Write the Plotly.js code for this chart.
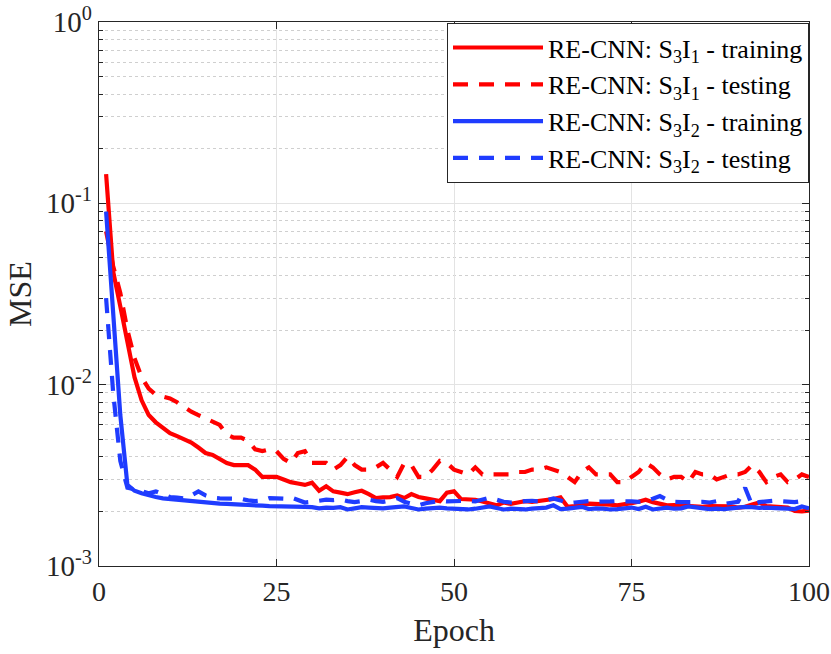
<!DOCTYPE html>
<html>
<head>
<meta charset="utf-8">
<script src="https://cdn.plot.ly/plotly-3.0.1.min.js"></script>
<style>
  html, body { margin: 0; padding: 0; background: #ffffff; }
  #chart { width: 831px; height: 654px; }
</style>
</head>
<body>
<div id="chart"></div>
<script>
// MSE per epoch

var epochs = [];
for (var i = 1; i <= 100; i++) epochs.push(i);

// S3I1 - training
var s3i1Train = [
  0.145, 0.042, 0.027, 0.017, 0.011, 0.0082, 0.0068, 0.0062, 0.0058, 0.0054,
  0.0052, 0.0050, 0.0048, 0.0045, 0.0042, 0.0041, 0.0039, 0.0037, 0.0036, 0.0036,
  0.0036, 0.0034, 0.0031, 0.0031, 0.0031, 0.0030, 0.0029, 0.00285, 0.0028, 0.00288,
  0.0026, 0.00275, 0.00258, 0.00254, 0.00249, 0.00255, 0.0026, 0.00249, 0.00237, 0.00239,
  0.0024, 0.00245, 0.00237, 0.00249, 0.0024, 0.00236, 0.00232, 0.00228, 0.00254, 0.00258,
  0.00234, 0.00233, 0.00232, 0.00227, 0.0022, 0.00216, 0.00224, 0.0022, 0.00224, 0.00228,
  0.00226, 0.00228, 0.00229, 0.00234, 0.00239, 0.00212, 0.00214, 0.0022, 0.00221, 0.0022,
  0.00221, 0.00218, 0.00216, 0.00218, 0.00222, 0.00226, 0.00232, 0.00225, 0.0022, 0.00216,
  0.00217, 0.00216, 0.00215, 0.00213, 0.00212, 0.00214, 0.00214, 0.00212, 0.00213, 0.0021,
  0.00212, 0.00218, 0.00224, 0.00214, 0.00213, 0.00212, 0.0021, 0.00201, 0.0020, 0.00202
];

// S3I1 - testing
var s3i1Test = [
  0.07, 0.045, 0.032, 0.020, 0.014, 0.011, 0.0095, 0.0088, 0.0086, 0.0084,
  0.0080, 0.0075, 0.0071, 0.0068, 0.0065, 0.0062, 0.0060, 0.0053, 0.0051, 0.0051,
  0.0049, 0.0044, 0.0043, 0.0044, 0.0043, 0.0039, 0.0037, 0.0042, 0.0043, 0.0037,
  0.0037, 0.0037, 0.0034, 0.0036, 0.0040, 0.0036, 0.0034, 0.0034, 0.0035, 0.0037,
  0.0034, 0.0031, 0.0037, 0.0036, 0.0031, 0.0031, 0.0034, 0.0038, 0.0037, 0.0034,
  0.0033, 0.0032, 0.0035, 0.0032, 0.0032, 0.0032, 0.0032, 0.0032, 0.0033, 0.0033,
  0.0034, 0.0034, 0.0035, 0.0034, 0.0033, 0.0031, 0.0029, 0.0033, 0.0035, 0.0032,
  0.0032, 0.0032, 0.0029, 0.0029, 0.0031, 0.0033, 0.0037, 0.0035, 0.0032, 0.0030,
  0.0031, 0.0031, 0.0029, 0.0033, 0.0032, 0.0032, 0.0030, 0.0031, 0.0032, 0.0032,
  0.0033, 0.0036, 0.0033, 0.0029, 0.0031, 0.0032, 0.0029, 0.0030, 0.0032, 0.0031
];

// S3I2 - training
var s3i2Train = [
  0.09, 0.024, 0.0068, 0.0028, 0.0026, 0.00252, 0.00245, 0.0024, 0.00236, 0.00234,
  0.0023, 0.00228, 0.00227, 0.00226, 0.00224, 0.00222, 0.00221, 0.0022, 0.0022, 0.00218,
  0.00217, 0.00215, 0.00215, 0.00214, 0.00214, 0.00214, 0.00213, 0.00213, 0.00212, 0.00211,
  0.00208, 0.0021, 0.00209, 0.00211, 0.00205, 0.00208, 0.00211, 0.0021, 0.00209, 0.00208,
  0.0021, 0.00211, 0.00213, 0.00209, 0.00205, 0.00207, 0.00208, 0.0021, 0.00208, 0.00207,
  0.00206, 0.00205, 0.00207, 0.0021, 0.00213, 0.00209, 0.00205, 0.00207, 0.00206, 0.00205,
  0.00207, 0.00208, 0.0021, 0.00216, 0.00206, 0.00207, 0.0021, 0.00212, 0.00206, 0.00208,
  0.00207, 0.00205, 0.00206, 0.00208, 0.0021, 0.00206, 0.00212, 0.00205, 0.00207, 0.0021,
  0.00207, 0.00208, 0.00213, 0.0021, 0.00208, 0.00206, 0.00207, 0.00206, 0.00208, 0.0021,
  0.00212, 0.00211, 0.00209, 0.0021, 0.0021, 0.00208, 0.00207, 0.00206, 0.00213, 0.00208
];

// S3I2 - testing
var s3i2Test = [
  0.03, 0.009, 0.0038, 0.0027, 0.00265, 0.00258, 0.00252, 0.00258, 0.0025, 0.0024,
  0.00238, 0.00236, 0.00245, 0.00258, 0.00245, 0.00238, 0.00236, 0.00236, 0.00237, 0.00235,
  0.0023, 0.00228, 0.0023, 0.00237, 0.00236, 0.00235, 0.00239, 0.0023, 0.00224, 0.00226,
  0.0023, 0.00232, 0.00231, 0.00233, 0.00228, 0.00225, 0.00228, 0.00232, 0.00228, 0.00226,
  0.0023, 0.00237, 0.00226, 0.0022, 0.00216, 0.00222, 0.00226, 0.00229, 0.00227, 0.00228,
  0.0023, 0.00229, 0.00227, 0.00232, 0.00238, 0.00232, 0.00226, 0.00224, 0.00227, 0.00228,
  0.00229, 0.00227, 0.0023, 0.00236, 0.0023, 0.00222, 0.00224, 0.00226, 0.00228, 0.00226,
  0.00225, 0.00227, 0.00228, 0.00229, 0.00227, 0.00226, 0.00228, 0.00235, 0.00243, 0.00232,
  0.00226, 0.00225, 0.00226, 0.00227, 0.00226, 0.00224, 0.00228, 0.0022, 0.00222, 0.00226,
  0.0027, 0.00216, 0.00225, 0.00228, 0.00229, 0.00228, 0.00226, 0.00225, 0.00228, 0.00233
];

var names = [
  'RE-CNN: S<sub>3</sub>I<sub>1</sub> - training',
  'RE-CNN: S<sub>3</sub>I<sub>1</sub> - testing',
  'RE-CNN: S<sub>3</sub>I<sub>2</sub> - training',
  'RE-CNN: S<sub>3</sub>I<sub>2</sub> - testing'
];

var xTicks = [0, 25, 50, 75, 100];
var yTicks = [1e-3, 1e-2, 1e-1, 1];
var yTickText = ['10<sup>-3</sup>', '10<sup>-2</sup>', '10<sup>-1</sup>', '10<sup>0</sup>'];

// minor ticks 2..9 in every decade
var yMinor = [];
for (var d = -3; d < 0; d++) {
  for (var m = 2; m <= 9; m++) yMinor.push(m * Math.pow(10, d));
}

var red = '#ff0000';
var blue = '#1f3cff';
var dashed = '15px,11px';

var data = [
  { x: epochs, y: s3i1Train, name: names[0], type: 'scatter', mode: 'lines',
    line: { color: red, width: 4.2 } },
  { x: epochs, y: s3i1Test, name: names[1], type: 'scatter', mode: 'lines',
    line: { color: red, width: 4.2, dash: dashed } },
  { x: epochs, y: s3i2Train, name: names[2], type: 'scatter', mode: 'lines',
    line: { color: blue, width: 4.2 } },
  { x: epochs, y: s3i2Test, name: names[3], type: 'scatter', mode: 'lines',
    line: { color: blue, width: 4.2, dash: dashed } }
];

var serif = '"Liberation Serif", "Times New Roman", serif';

var layout = {
  width: 831,
  height: 654,
  paper_bgcolor: '#ffffff',
  plot_bgcolor: '#ffffff',
  font: { family: serif, size: 26, color: '#262626' },
  margin: { l: 99, r: 22, t: 22, b: 88 },
  showlegend: true,
  legend: {
    x: 1, xanchor: 'right', y: 0.998, yanchor: 'top',
    bgcolor: '#ffffff', bordercolor: '#262626', borderwidth: 1,
    font: { family: serif, size: 26, color: '#000000' },
    itemwidth: 90,
    tracegroupgap: 0
  },
  xaxis: {
    range: [0, 100],
    tickmode: 'array',
    tickvals: xTicks,
    ticks: 'inside', ticklen: 7, tickcolor: '#262626',
    showline: true, linecolor: '#262626', linewidth: 1.2, mirror: 'ticks',
    showgrid: true, gridcolor: '#e3e3e3', gridwidth: 1,
    zeroline: false,
    tickfont: { family: serif, size: 28, color: '#262626' },
    title: { text: 'Epoch', font: { family: serif, size: 32, color: '#262626' }, standoff: 12 }
  },
  yaxis: {
    type: 'log',
    range: [-3, 0],
    tickmode: 'array',
    tickvals: yTicks,
    ticktext: yTickText,
    ticks: 'inside', ticklen: 7, tickcolor: '#262626',
    showline: true, linecolor: '#262626', linewidth: 1.2, mirror: 'ticks',
    showgrid: true, gridcolor: '#e3e3e3', gridwidth: 1,
    zeroline: false,
    tickfont: { family: serif, size: 29, color: '#262626' },
    minor: {
      tickmode: 'array', tickvals: yMinor,
      ticks: 'inside', ticklen: 4, tickcolor: '#262626',
      showgrid: true, gridcolor: '#cfcfcf', griddash: 'dot', gridwidth: 1
    },
    title: { text: 'MSE', font: { family: serif, size: 32, color: '#262626' }, standoff: 4 }
  }
};

Plotly.newPlot('chart', data, layout, { displayModeBar: false, staticPlot: true });
</script>
</body>
</html>
